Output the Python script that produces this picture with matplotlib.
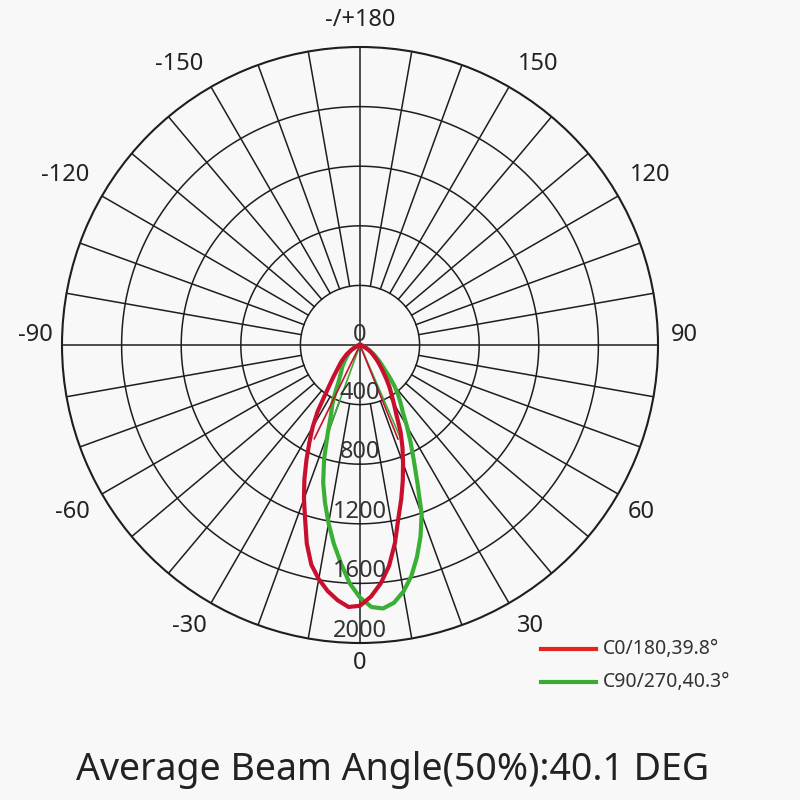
import numpy as np
import matplotlib.pyplot as plt
from matplotlib.lines import Line2D
from matplotlib.transforms import offset_copy

plt.rcParams['font.family'] = ['Noto Sans', 'DejaVu Sans']

# angle (deg, 0 = straight down) and intensity (cd)
angles = [-90, -75, -60, -55, -50, -47.5, -45, -42.5, -40, -37.5, -35, -32.5, -30,
          -27.5, -25, -22.5, -20, -17.5, -15, -12.5, -10, -7.5, -5, -2.5, 0,
          2.5, 5, 7.5, 10, 12.5, 15, 17.5, 20, 22.5, 25, 27.5, 30, 32.5, 35,
          37.5, 40, 42.5, 45, 47.5, 50, 55, 60, 75, 90]
c0_180 = [0, 20, 70, 110, 150, 175, 200, 230, 275, 330, 410, 530, 635,
          735, 850, 975, 1100, 1225, 1380, 1510, 1595, 1665, 1720, 1760, 1750,
          1690, 1605, 1495, 1350, 1190, 1070, 955, 845, 745, 645, 530, 455, 395, 345,
          295, 250, 215, 185, 160, 135, 100, 70, 20, 0]
c90_270 = [0, 20, 65, 90, 110, 125, 140, 160, 180, 200, 220, 250, 290,
           360, 440, 510, 635, 800, 955, 1085, 1215, 1345, 1470, 1600, 1695,
           1760, 1775, 1745, 1680, 1590, 1475, 1350, 1210, 1010, 855, 735, 630, 535, 475,
           420, 360, 295, 237, 200, 170, 120, 75, 20, 0]

# thin rays (angle, length)
c0_rays = [(-26, 700), (22, 680)]
c90_rays = [(-20, 650), (23.5, 680)]

ring_values = [400, 800, 1200, 1600, 2000]
angle_ticks = [0, 30, 60, 90, 120, 150, 180, -150, -120, -90, -60, -30]
angle_labels = ['0', '30', '60', '90', '120', '150', '-/+180', '-150', '-120', '-90', '-60', '-30']
# small pixel nudges (dx, dy) for the angle labels
label_nudge = [(0, 7), (8, 0), (0, -5), (0, 10), (9, 8), (16, 0), (0, 0),
               (-18, 0), (-14, 8), (0, 10), (-6, -5), (-8, 0)]

legend_labels = ['C0/180,39.8°', 'C90/270,40.3°']
title = 'Average Beam Angle(50%):40.1 DEG'

bg = '#f8f8f8'
red = '#c8102e'
green = '#3aaf35'
grid_c = '#1e1e1e'

fig = plt.figure(figsize=(8, 8), dpi=100, facecolor=bg)
ax = fig.add_axes([0.0775, 0.19625, 0.745, 0.745], projection='polar')
ax.set_facecolor(bg)
ax.set_theta_zero_location('S')
ax.set_theta_direction(1)
ax.set_ylim(0, 2000)
ax.grid(False)
ax.set_xticks([])
ax.set_yticks([])
ax.spines['polar'].set_linewidth(1.5)
ax.spines['polar'].set_color(grid_c)

full = np.linspace(0, 2 * np.pi, 361)
for r in ring_values[:-1]:
    ax.plot(full, [r] * len(full), color=grid_c, lw=1.1, zorder=1)
for a in range(0, 360, 10):
    start = 0 if a % 90 == 0 else ring_values[0]
    ax.plot([np.radians(a)] * 2, [start, 2000], color=grid_c, lw=1.1, zorder=1)

# curves
th = np.radians(angles)
ax.plot(th, c90_270, color=green, lw=3, zorder=3, solid_joinstyle='round')
ax.plot(th, c0_180, color=red, lw=3, zorder=4, solid_joinstyle='round')
for a, r in c90_rays:
    ax.plot([np.radians(a)] * 2, [0, r], color=green, lw=1.2, zorder=3)
for a, r in c0_rays:
    ax.plot([np.radians(a)] * 2, [0, r], color=red, lw=1.2, zorder=4)

# ring labels
ax.text(np.pi, 70, '0', ha='center', va='center', fontsize=17, color='#333333', zorder=5)
for v in ring_values:
    ax.text(0, v - 80, str(v), ha='center', va='center', fontsize=17,
            color='#333333', zorder=5)

# angle labels
for a, lab, (dx, dy) in zip(angle_ticks, angle_labels, label_nudge):
    tr = offset_copy(ax.transData, fig=fig, x=dx, y=dy, units='dots')
    ax.text(np.radians(a), 2180, lab, ha='center', va='center', fontsize=17,
            color='#222222', transform=tr)

# legend
for y, col, lab in zip([0.18875, 0.1475], ['#e52420', '#3aaa35'], legend_labels):
    fig.add_artist(Line2D([0.676, 0.745], [y, y], color=col, lw=3,
                          transform=fig.transFigure))
    fig.text(0.754, y, lab, ha='left', va='center', fontsize=14, color='#333333')

fig.text(0.491, 0.0375, title, ha='center', va='center', fontsize=27, color='#222222')

fig.savefig('out.png', dpi=100, facecolor=bg)
